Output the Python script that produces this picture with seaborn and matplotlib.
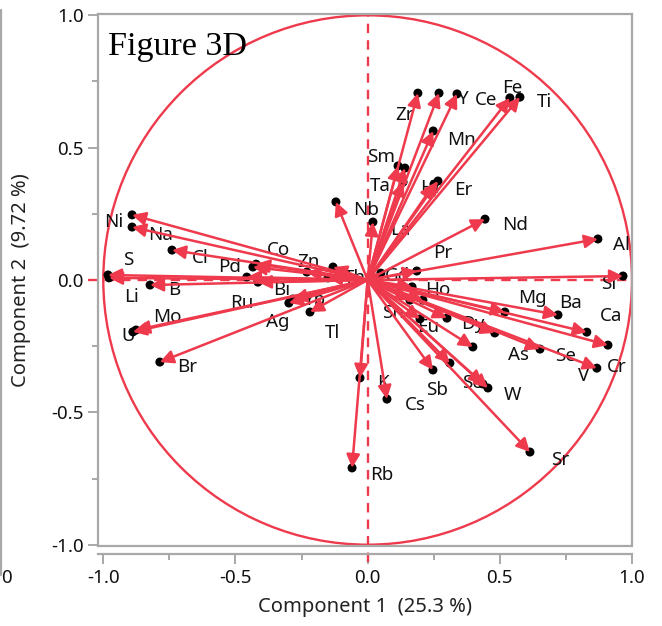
import numpy as np
import pandas as pd
import matplotlib
matplotlib.use('Agg')
import matplotlib.pyplot as plt
from matplotlib.lines import Line2D
from matplotlib.ticker import MultipleLocator
import seaborn as sns

# loadings (component 1, component 2)
elements = ['Zr', 'Y', 'Ce', 'Fe', 'Ti', 'Mn', 'Sm', 'Lu', 'Ta', 'Hf', 'Er', 'Nd',
            'Nb', 'La', 'Pr', 'Gd', 'Al', 'Si', 'Ho', 'Mg', 'Ba', 'Ca', 'Cr', 'V',
            'Se', 'As', 'Dy', 'Eu', 'Sn', 'Tb', 'Ga', 'Sr', 'W', 'Sc', 'Sb', 'Cu',
            'K', 'Cs', 'Rb', 'Tl', 'Ag', 'Yb', 'Ru', 'Bi', 'Pd', 'Co', 'Zn', 'Th',
            'Pb', 'Cl', 'Na', 'Ni', 'S', 'Li', 'B', 'Mo', 'U', 'Br']
comp1 = [0.190, 0.270, 0.338, 0.538, 0.576, 0.248, 0.115, 0.141, 0.134, 0.251, 0.266, 0.444,
         -0.120, 0.020, 0.186, 0.050, 0.871, 0.966, 0.168, 0.519, 0.720, 0.829, 0.909, 0.867,
         0.652, 0.481, 0.300, 0.198, 0.160, 0.209, 0.398, 0.614, 0.455, 0.436, 0.247, 0.311,
         -0.029, 0.073, -0.059, -0.218, -0.298, -0.283, -0.457, -0.415, -0.434, -0.422, -0.230, -0.131,
         -0.150, -0.740, -0.891, -0.891, -0.982, -0.978, -0.823, -0.876, -0.888, -0.786]
comp2 = [0.706, 0.706, 0.703, 0.688, 0.691, 0.563, 0.431, 0.423, 0.370, 0.362, 0.374, 0.230,
         0.295, 0.219, 0.034, 0.026, 0.155, 0.015, -0.026, -0.121, -0.132, -0.197, -0.246, -0.333,
         -0.261, -0.200, -0.144, -0.147, -0.076, -0.076, -0.253, -0.650, -0.408, -0.393, -0.340, -0.314,
         -0.370, -0.450, -0.710, -0.121, -0.087, -0.072, 0.011, -0.008, 0.049, 0.060, 0.030, 0.049,
         0.008, 0.113, 0.200, 0.246, 0.019, 0.008, -0.019, -0.189, -0.196, -0.310]

# label placement relative to each point (pixels: right, down); hidden labels omitted
label_offsets = {
    'Zr': (-13, 22), 'Y': (24, 6), 'Ce': (29, 6), 'Fe': (2, -10), 'Ti': (25, 5),
    'Mn': (28, 9), 'Sm': (-17, -9), 'Ta': (-23, 4), 'Hf': (-4, 4), 'Er': (25, 9),
    'Nd': (30, 6), 'Nb': (30, 8), 'La': (27, 8), 'Pr': (26, -18), 'Gd': (17, 3),
    'Al': (24, 6), 'Si': (-14, 8), 'Ho': (26, 3), 'Mg': (28, -14), 'Ba': (13, -12),
    'Ca': (24, -16), 'Cr': (9, 22), 'V': (-13, 8), 'Se': (25, 7), 'As': (24, 22),
    'Dy': (26, 6), 'Eu': (8, 8), 'Sn': (-17, 13), 'Sr': (30, 8), 'W': (25, 7),
    'Sc': (-11, -1), 'Sb': (4, 20), 'K': (23, 5), 'Cs': (28, 6), 'Rb': (30, 7),
    'Tl': (22, 21), 'Ag': (-11, 19), 'Yb': (22, 1), 'Ru': (-5, 26), 'Bi': (24, 8),
    'Pd': (-23, 0), 'Co': (22, -14), 'Zn': (2, -10), 'Th': (22, 11), 'Cl': (28, 8),
    'Na': (28, 8), 'Ni': (-18, 7), 'S': (20, -15), 'Li': (22, 19), 'B': (24, 5),
    'Mo': (31, -13), 'U': (-5, 4), 'Br': (27, 5),
}

df = pd.DataFrame({'element': elements, 'comp1': comp1, 'comp2': comp2})

red = '#EE3A4C'
gray = '#A8A8A8'

sns.set_style('white')
plt.rcParams['font.family'] = ['Noto Sans', 'DejaVu Sans']

fig = plt.figure(figsize=(6.62, 6.26), dpi=100)
ax = fig.add_axes([98 / 662, 1 - 546 / 626, 534 / 662, 532 / 626])

# unit circle and reference lines
ax.add_patch(plt.Circle((0, 0), 1.0, fill=False, color=red, lw=1.7, zorder=1))
ax.axhline(0, xmin=-0.018, xmax=1, color=red, ls=(0, (4, 3)), lw=1.7, clip_on=False, zorder=1)
ax.axvline(0, ymin=-0.03, ymax=1, color=red, ls=(0, (4, 3)), lw=1.7, clip_on=False, zorder=1)

# labels under the arrows
for _, row in df.iterrows():
    if row['element'] not in label_offsets:
        continue
    dx, dy = label_offsets[row['element']]
    ax.annotate(row['element'], xy=(row['comp1'], row['comp2']), xytext=(dx, -dy),
                textcoords='offset pixels', ha='center', va='center',
                fontsize=13.5, color='#111111', zorder=2)

sns.scatterplot(data=df, x='comp1', y='comp2', color='black', s=42,
                edgecolor='none', ax=ax, zorder=3)

for _, row in df.iterrows():
    ax.annotate('', xy=(row['comp1'], row['comp2']), xytext=(0, 0),
                arrowprops=dict(arrowstyle='-|>', color=red, lw=1.8,
                                mutation_scale=20, shrinkA=0, shrinkB=0),
                zorder=4)

ax.set_xlim(-1.02, 1.0)
ax.set_ylim(-1.005, 1.005)

for side in ['left', 'right', 'top', 'bottom']:
    ax.spines[side].set_color(gray)
    ax.spines[side].set_linewidth(1.6)
ax.spines['bottom'].set_position(('outward', 6))
ax.plot([0, 1], [0, 0], transform=ax.transAxes, color=gray, lw=1.6, clip_on=False, zorder=5)

ax.xaxis.set_minor_locator(MultipleLocator(0.25))
ax.yaxis.set_minor_locator(MultipleLocator(0.25))
ax.set_xticks([-1.0, -0.5, 0.0, 0.5, 1.0])
ax.set_xticklabels(['-1.0', '-0.5', '0.0', '0.5', '1.0'])
ax.set_yticks([-1.0, -0.5, 0.0, 0.5, 1.0])
ax.set_yticklabels(['-1.0', '-0.5', '0.0', '0.5', '1.0'])
ax.tick_params(which='both', direction='out', color=gray, width=1.4, labelsize=13.5,
               labelcolor='#111111', bottom=True, left=True)
ax.tick_params(which='major', length=7)
ax.tick_params(which='minor', length=4)

ax.set_xlabel('Component 1  (25.3 %)', fontsize=14.5, color='#222222', labelpad=7)
ax.set_ylabel('Component 2  (9.72 %)', fontsize=14.5, color='#222222', labelpad=14)

ax.text(0.018, 0.968, 'Figure 3D', transform=ax.transAxes, ha='left', va='top',
        fontsize=24.5, family=['Liberation Serif'], color='black', zorder=6)

# edge of the neighbouring panel visible in the source image
fig.add_artist(Line2D([1 / 662, 1 / 662], [1 - 575 / 626, 1 - 10 / 626], color=gray, lw=1.6))
fig.text(6 / 662, 1 - 578 / 626, '0', ha='center', va='center', fontsize=13.5, color='#111111')

plt.savefig('out.png', dpi=100)
